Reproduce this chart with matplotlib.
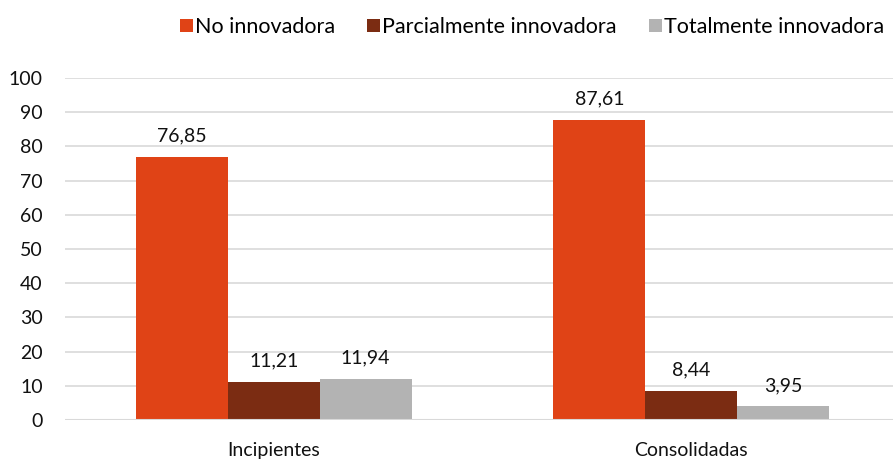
import matplotlib.pyplot as plt
import numpy as np

plt.rcParams['font.family'] = ['Lato', 'DejaVu Sans']

categorias = ['Incipientes', 'Consolidadas']
series = ['No innovadora', 'Parcialmente innovadora', 'Totalmente innovadora']
no_innovadora = [76.85, 87.61]
parcial = [11.21, 8.44]
total = [11.94, 3.95]
colores = ['#E04316', '#7B2C12', '#B3B3B3']

fig = plt.figure(figsize=(8.93, 4.61), dpi=100)
ax = fig.add_axes([0.0728, 0.089, 0.935, 0.742])

x = np.arange(len(categorias))
ancho = 0.22
for i, (vals, nombre, c) in enumerate(zip([no_innovadora, parcial, total], series, colores)):
    pos = x + (i - 1) * ancho
    ax.bar(pos, vals, width=ancho, color=c, label=nombre, zorder=3)
    for px, v in zip(pos, vals):
        ax.annotate(f'{v:.2f}'.replace('.', ','), (px, v), xytext=(0, 9),
                    textcoords='offset points', ha='center', va='bottom',
                    fontsize=14, color='#111111')

ax.set_xlim(-0.5, 1.5)
ax.set_ylim(0, 100)
ax.set_yticks(range(0, 101, 10))
ax.set_xticks(x)
ax.set_xticklabels(categorias)
ax.tick_params(axis='both', length=0, labelsize=14, colors='#111111')
ax.tick_params(axis='x', pad=16)
ax.tick_params(axis='y', pad=16)
ax.grid(axis='y', color='#D9D9D9', linewidth=1.2, zorder=0)
for s in ax.spines.values():
    s.set_visible(False)
ax.axhline(0, color='#D9D9D9', linewidth=1.5, zorder=4)

fig.legend(loc='upper right', bbox_to_anchor=(1.012, 1.005), ncol=3, frameon=False,
           fontsize=15.5, handlelength=0.6, handleheight=0.6, handletextpad=0.1,
           columnspacing=1.5)

fig.savefig('out.png', dpi=100)
